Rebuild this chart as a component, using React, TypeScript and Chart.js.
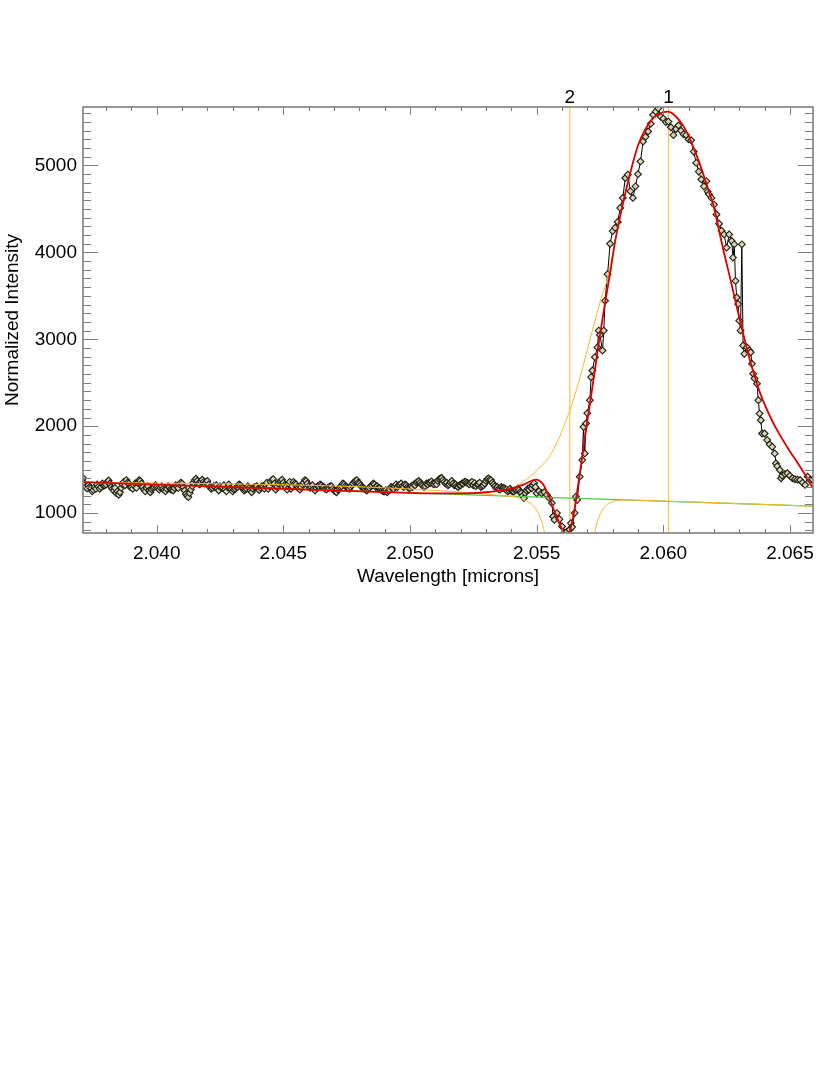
import React, { useEffect, useRef } from "react";
import { Chart, registerables } from "chart.js";

Chart.register(...registerables);

// ---- axis ranges & ticks ----
const X_MIN = 2.03709;
const X_MAX = 2.06591;
const Y_MIN = 771;
const Y_MAX = 5673;
const X_TICKS = [2.04, 2.045, 2.05, 2.055, 2.06, 2.065];
const Y_TICKS = [1000, 2000, 3000, 4000, 5000];
const X_MINOR_STEP = 0.001;
const Y_MINOR_STEP = 100;
const X_TITLE = "Wavelength [microns]";
const Y_TITLE = "Normalized Intensity";

// ---- component line markers ----
const VLINE_WL = [2.05631, 2.06021];
const VLINE_LABELS = ["2", "1"];

// ---- observed spectrum ----
const DATA_WL = [
  2.0371, 2.03715, 2.0372, 2.03725, 2.0373, 2.03735, 2.0374, 2.03745, 2.0375, 2.03755, 2.0376, 2.03765, 2.0377, 2.03775, 2.0378, 2.03785, 2.0379, 2.03795,
  2.038, 2.03805, 2.0381, 2.03815, 2.0382, 2.03825, 2.0383, 2.03835, 2.0384, 2.03845, 2.0385, 2.03855, 2.0386, 2.03865, 2.0387, 2.03875, 2.0388, 2.03885, 2.0389, 2.03895,
  2.039, 2.03905, 2.0391, 2.03915, 2.0392, 2.03925, 2.0393, 2.03935, 2.0394, 2.03945, 2.0395, 2.03955, 2.0396, 2.03965, 2.0397, 2.03975, 2.0398, 2.03985, 2.0399, 2.03995,
  2.04, 2.04005, 2.0401, 2.04015, 2.0402, 2.04025, 2.0403, 2.04035, 2.0404, 2.04045, 2.0405, 2.04055, 2.0406, 2.04065, 2.0407, 2.04075, 2.0408, 2.04085, 2.0409, 2.04095,
  2.041, 2.04105, 2.0411, 2.04115, 2.0412, 2.04125, 2.0413, 2.04135, 2.0414, 2.04145, 2.0415, 2.04155, 2.0416, 2.04165, 2.0417, 2.04175, 2.0418, 2.04185, 2.0419, 2.04195,
  2.042, 2.04205, 2.0421, 2.04215, 2.0422, 2.04225, 2.0423, 2.04235, 2.0424, 2.04245, 2.0425, 2.04255, 2.0426, 2.04265, 2.0427, 2.04275, 2.0428, 2.04285, 2.0429, 2.04295,
  2.043, 2.04305, 2.0431, 2.04315, 2.0432, 2.04325, 2.0433, 2.04335, 2.0434, 2.04345, 2.0435, 2.04355, 2.0436, 2.04365, 2.0437, 2.04375, 2.0438, 2.04385, 2.0439, 2.04395,
  2.044, 2.04405, 2.0441, 2.04415, 2.0442, 2.04425, 2.0443, 2.04435, 2.0444, 2.04445, 2.0445, 2.04455, 2.0446, 2.04465, 2.0447, 2.04475, 2.0448, 2.04485, 2.0449, 2.04495,
  2.045, 2.04505, 2.0451, 2.04515, 2.0452, 2.04525, 2.0453, 2.04535, 2.0454, 2.04545, 2.0455, 2.04555, 2.0456, 2.04565, 2.0457, 2.04575, 2.0458, 2.04585, 2.0459, 2.04595,
  2.046, 2.04605, 2.0461, 2.04615, 2.0462, 2.04625, 2.0463, 2.04635, 2.0464, 2.04645, 2.0465, 2.04655, 2.0466, 2.04665, 2.0467, 2.04675, 2.0468, 2.04685, 2.0469, 2.04695,
  2.047, 2.04705, 2.0471, 2.04715, 2.0472, 2.04725, 2.0473, 2.04735, 2.0474, 2.04745, 2.0475, 2.04755, 2.0476, 2.04765, 2.0477, 2.04775, 2.0478, 2.04785, 2.0479, 2.04795,
  2.048, 2.04805, 2.0481, 2.04815, 2.0482, 2.04825, 2.0483, 2.04835, 2.0484, 2.04845, 2.0485, 2.04855, 2.0486, 2.04865, 2.0487, 2.04875, 2.0488, 2.04885, 2.0489, 2.04895,
  2.049, 2.04905, 2.0491, 2.04915, 2.0492, 2.04925, 2.0493, 2.04935, 2.0494, 2.04945, 2.0495, 2.04955, 2.0496, 2.04965, 2.0497, 2.04975, 2.0498, 2.04985, 2.0499, 2.04995,
  2.05, 2.05005, 2.0501, 2.05015, 2.0502, 2.05025, 2.0503, 2.05035, 2.0504, 2.05045, 2.0505, 2.05055, 2.0506, 2.05065, 2.0507, 2.05075, 2.0508, 2.05085, 2.0509, 2.05095,
  2.051, 2.05105, 2.0511, 2.05115, 2.0512, 2.05125, 2.0513, 2.05135, 2.0514, 2.05145, 2.0515, 2.05155, 2.0516, 2.05165, 2.0517, 2.05175, 2.0518, 2.05185, 2.0519, 2.05195,
  2.052, 2.05205, 2.0521, 2.05215, 2.0522, 2.05225, 2.0523, 2.05235, 2.0524, 2.05245, 2.0525, 2.05255, 2.0526, 2.05265, 2.0527, 2.05275, 2.0528, 2.05285, 2.0529, 2.05295,
  2.053, 2.05305, 2.0531, 2.05315, 2.0532, 2.05325, 2.0533, 2.05335, 2.0534, 2.05345, 2.0535, 2.05355, 2.0536, 2.05365, 2.0537, 2.05375, 2.0538, 2.05385, 2.0539, 2.05395,
  2.054, 2.05405, 2.0541, 2.05415, 2.0542, 2.05425, 2.0543, 2.05435, 2.0544, 2.05445, 2.0545, 2.05455, 2.0546, 2.05465, 2.0547, 2.05475, 2.0548, 2.05485, 2.0549, 2.05495,
  2.055, 2.0551, 2.0552, 2.0553, 2.0554, 2.0555, 2.0556, 2.05565, 2.0557, 2.0558,
  2.0559, 2.056, 2.0561, 2.0562, 2.0563, 2.05635, 2.0564, 2.0565, 2.05655, 2.0566,
  2.0567, 2.0568, 2.05685, 2.0569, 2.05695, 2.057, 2.0571, 2.05715, 2.0572, 2.0573,
  2.0574, 2.05745, 2.0575, 2.0576, 2.05765, 2.0577, 2.0578, 2.0579, 2.058, 2.0581,
  2.0582, 2.0583, 2.0584, 2.0585, 2.0586, 2.0587, 2.0588, 2.0589, 2.059, 2.0591,
  2.0592, 2.0593, 2.0594, 2.0595, 2.0596, 2.0597, 2.0598, 2.0599, 2.06, 2.0601,
  2.0602, 2.0603, 2.0604, 2.0605, 2.0606, 2.0607, 2.0608, 2.0609, 2.061, 2.0611,
  2.0612, 2.0613, 2.0614, 2.0615, 2.0616, 2.0617, 2.06175, 2.0618, 2.0619, 2.062,
  2.0621, 2.0622, 2.0623, 2.0624, 2.0625, 2.0626, 2.0627, 2.06275, 2.0628, 2.06285,
  2.0629, 2.06295, 2.063, 2.06305, 2.0631, 2.06315, 2.0632, 2.0633, 2.0634, 2.06345,
  2.0635, 2.06355, 2.0636, 2.0637, 2.06375, 2.0638, 2.06385, 2.0639, 2.064, 2.0641,
  2.0642, 2.0643, 2.0644, 2.06445, 2.0645, 2.0646, 2.06465, 2.0647, 2.0648, 2.0649,
  2.065, 2.0651, 2.0652, 2.0653, 2.0654, 2.0655, 2.0656, 2.0657, 2.0658, 2.0659,
];
const DATA_INT = [
  1400, 1340, 1300, 1285, 1320, 1300, 1290, 1250, 1265, 1300, 1280, 1330, 1305, 1280, 1300, 1340, 1315, 1320,
  1330, 1360, 1375, 1340, 1300, 1280, 1260, 1290, 1230, 1250, 1210, 1240, 1290, 1330, 1360, 1320, 1380, 1350, 1340, 1300,
  1300, 1280, 1320, 1340, 1290, 1350, 1380, 1370, 1340, 1300, 1270, 1250, 1290, 1310, 1260, 1240, 1275, 1290, 1300, 1320,
  1300, 1285, 1270, 1290, 1310, 1280, 1265, 1250, 1280, 1310, 1300, 1275, 1270, 1260, 1290, 1320, 1310, 1290, 1330, 1350,
  1340, 1300, 1260, 1220, 1200, 1185, 1230, 1270, 1310, 1350, 1380, 1395, 1370, 1340, 1330, 1360, 1385, 1360, 1340, 1355,
  1370, 1330, 1300, 1280, 1290, 1310, 1300, 1320, 1280, 1260, 1310, 1290, 1295, 1320, 1270, 1250, 1300, 1330, 1285, 1270,
  1250, 1270, 1280, 1300, 1300, 1330, 1320, 1300, 1290, 1260, 1270, 1280, 1310, 1290, 1260, 1240, 1280, 1300, 1295, 1310,
  1280, 1265, 1290, 1310, 1300, 1280, 1330, 1350, 1280, 1310, 1360, 1380, 1390, 1340, 1270, 1300, 1340, 1360, 1370, 1385,
  1350, 1320, 1300, 1270, 1340, 1360, 1280, 1310, 1360, 1340, 1330, 1300, 1290, 1270, 1300, 1330, 1350, 1380, 1370, 1340,
  1310, 1290, 1300, 1320, 1280, 1260, 1290, 1310, 1310, 1330, 1320, 1300, 1300, 1280, 1270, 1290, 1290, 1310, 1310, 1280,
  1260, 1250, 1240, 1270, 1290, 1300, 1310, 1340, 1330, 1310, 1300, 1290, 1280, 1300, 1320, 1340, 1360, 1370, 1380, 1350,
  1340, 1320, 1300, 1290, 1280, 1270, 1260, 1280, 1290, 1310, 1320, 1340, 1330, 1300, 1310, 1290, 1290, 1270, 1260, 1250,
  1250, 1265, 1240, 1255, 1270, 1300, 1290, 1280, 1310, 1330, 1300, 1320, 1320, 1340, 1310, 1300, 1330, 1320, 1300, 1290,
  1290, 1310, 1300, 1330, 1320, 1350, 1360, 1370, 1350, 1330, 1320, 1300, 1310, 1340, 1330, 1350, 1345, 1365, 1340, 1330,
  1350, 1330, 1370, 1390, 1400, 1405, 1380, 1360, 1340, 1350, 1320, 1330, 1350, 1370, 1340, 1320, 1330, 1310, 1300, 1320,
  1320, 1340, 1340, 1360, 1360, 1350, 1340, 1330, 1350, 1360, 1320, 1345, 1310, 1330, 1330, 1350, 1300, 1310, 1320, 1340,
  1370, 1390, 1400, 1385, 1380, 1350, 1330, 1310, 1290, 1300, 1280, 1270, 1300, 1290, 1290, 1280, 1270, 1250, 1260, 1280,
  1260, 1250, 1248, 1265, 1270, 1285, 1265, 1240, 1230, 1200, 1172, 1230, 1260, 1280, 1270, 1300, 1286, 1320, 1344, 1300,
  1229, 1250, 1229, 1240, 1210, 1172, 1115, 961, 923, 1000,
  930, 847, 775, 790, 809, 885, 840, 1000, 1190, 1150,
  1419, 1610, 1992, 1687, 2031, 2150, 2298, 2565, 2641, 2794,
  2908, 3100, 3050, 2870, 3100, 3443, 3749, 4100, 4245, 4283,
  4350, 4512, 4627, 4856, 4894, 4704, 4627, 4760, 4900, 5047,
  5276, 5330, 5391, 5480, 5582, 5620, 5658, 5560, 5540, 5500,
  5505, 5440, 5350, 5420, 5460, 5400, 5360, 5350, 5300, 5290,
  5160, 5030, 4930, 4840, 4760, 4820, 4700, 4670, 4627, 4550,
  4436, 4330, 4250, 4207, 4054, 4207, 4131, 3940, 4093, 3672,
  3481, 3405, 3214, 3100, 4093, 2928, 2833, 2908, 2870, 2851,
  2718, 2604, 2550, 2489, 2298, 2145, 2069, 1916, 1916, 1840,
  1790, 1763, 1687, 1572, 1540, 1496, 1401, 1430, 1450, 1458,
  1430, 1401, 1390, 1385, 1381, 1350, 1324, 1419, 1381, 1385,
];

// ---- total fit (red) ----
const FIT_WL = [
  2.037, 2.04, 2.045, 2.05, 2.051, 2.052, 2.0525, 2.053, 2.0535, 2.0538,
  2.0542, 2.0545, 2.0548, 2.055, 2.0552, 2.0553, 2.0554, 2.0555, 2.0556, 2.0557,
  2.0558, 2.0559, 2.056, 2.0561, 2.0562, 2.0563, 2.0564, 2.0565, 2.0566, 2.0567,
  2.0568, 2.0569, 2.057, 2.0571, 2.0572, 2.0573, 2.0574, 2.0575, 2.0577, 2.0579,
  2.0581, 2.0583, 2.0585, 2.0587, 2.059, 2.0593, 2.0596, 2.0598, 2.06, 2.0602,
  2.0604, 2.0606, 2.0608, 2.061, 2.0612, 2.0614, 2.0616, 2.0618, 2.062, 2.0622,
  2.0624, 2.0626, 2.0628, 2.063, 2.0632, 2.0634, 2.0636, 2.0638, 2.064, 2.0643,
  2.0646, 2.065, 2.0653, 2.0656, 2.0659,
];
const FIT_INT = [
  1357, 1328, 1280, 1233, 1226, 1226, 1230, 1240, 1258, 1270,
  1300, 1330, 1372, 1386, 1352, 1310, 1245, 1180, 1100, 1020,
  950, 880, 815, 765, 735, 790, 900, 1050, 1250, 1450,
  1650, 1860, 2060, 2250, 2450, 2650, 2850, 3050, 3420, 3760,
  4130, 4420, 4680, 4920, 5230, 5420, 5545, 5590, 5615, 5620,
  5590, 5530, 5450, 5340, 5200, 5050, 4880, 4700, 4520, 4250,
  3990, 3750, 3500, 3250, 3010, 2780, 2580, 2400, 2250, 2060,
  1900, 1710, 1580, 1440, 1290,
];

// ---- component 1: broad emission (orange) ----
const COMP1_WL = [
  2.037, 2.05, 2.051, 2.052, 2.0525, 2.053, 2.0535, 2.0538, 2.0541, 2.0543,
  2.0546, 2.0549, 2.0552, 2.0555, 2.0558, 2.0561, 2.0564, 2.0567, 2.057, 2.0573,
  2.0576, 2.0578, 2.058, 2.0581, 2.0583, 2.0585, 2.0587, 2.059, 2.0593, 2.0596,
  2.0598, 2.06, 2.0602, 2.0606, 2.061, 2.0614, 2.0618, 2.0622, 2.0626, 2.063,
  2.0634, 2.0638, 2.0643, 2.065, 2.0656, 2.0659,
];
const COMP1_INT = [
  1357, 1233, 1226, 1226, 1230, 1240, 1258, 1272, 1295, 1330,
  1390, 1460, 1545, 1650, 1810, 2020, 2260, 2550, 2880, 3210,
  3520, 3700, 3990, 4140, 4425, 4685, 4922, 5232, 5421, 5546,
  5591, 5616, 5621, 5531, 5341, 5051, 4701, 4251, 3751, 3251,
  2781, 2401, 2061, 1711, 1441, 1291,
];

// ---- component 2: absorption (orange) ----
const COMP2_WL = [
  2.037, 2.0541, 2.0545, 2.0549, 2.0551, 2.0552, 2.0553, 2.0554, 2.0556, 2.0563,
  2.057, 2.0572, 2.0573, 2.0574, 2.0575, 2.0577, 2.0581, 2.0585, 2.059, 2.066,
];
const COMP2_INT = [
  1357, 1188, 1150, 1076, 980, 900, 790, 640, 280, -500,
  280, 640, 790, 900, 980, 1076, 1140, 1152, 1148, 1079,
];

// ---- continuum (green) ----
const CONT_WL = [2.037, 2.066];
const CONT_INT = [1357, 1079];

const FONT_FAMILY = '"Liberation Sans", Arial, Helvetica, sans-serif';
const FONT_SIZE = 19;

const pts = (xs: number[], ys: number[]) => xs.map((x, i) => ({ x, y: ys[i] }));

const idlAxesPlugin = {
  id: "idlAxes",
  afterDatasetsDraw(chart: any) {
    const { ctx, chartArea: a, scales } = chart;
    const xs = scales.x;
    const ys = scales.y;
    ctx.save();
    ctx.strokeStyle = "#7f7f7f";
    ctx.lineWidth = 1;
    ctx.beginPath();
    const xi0 = Math.ceil(X_MIN / X_MINOR_STEP - 1e-6);
    for (let i = xi0; i * X_MINOR_STEP <= X_MAX + 1e-9; i++) {
      const v = i * X_MINOR_STEP;
      const major = X_TICKS.some((t) => Math.abs(t - v) < 1e-7);
      const len = major ? 8 : 4;
      const px = Math.round(xs.getPixelForValue(v)) + 0.5;
      ctx.moveTo(px, a.bottom);
      ctx.lineTo(px, a.bottom - len);
      ctx.moveTo(px, a.top);
      ctx.lineTo(px, a.top + len);
    }
    const yi0 = Math.ceil(Y_MIN / Y_MINOR_STEP - 1e-6);
    for (let i = yi0; i * Y_MINOR_STEP <= Y_MAX + 1e-9; i++) {
      const v = i * Y_MINOR_STEP;
      const major = Y_TICKS.some((t) => Math.abs(t - v) < 1e-7);
      const len = major ? 15 : 8;
      const py = Math.round(ys.getPixelForValue(v)) + 0.5;
      ctx.moveTo(a.left, py);
      ctx.lineTo(a.left + len, py);
      ctx.moveTo(a.right, py);
      ctx.lineTo(a.right - len, py);
    }
    ctx.stroke();
    ctx.lineWidth = 1.6;
    ctx.strokeRect(a.left, a.top, a.right - a.left, a.bottom - a.top);
    ctx.fillStyle = "#000";
    ctx.font = `${FONT_SIZE}px ${FONT_FAMILY}`;
    ctx.textAlign = "center";
    ctx.textBaseline = "alphabetic";
    VLINE_LABELS.forEach((t, i) => {
      ctx.fillText(t, xs.getPixelForValue(VLINE_WL[i]), 103);
    });
    ctx.restore();
  },
};

export default function App() {
  const canvasRef = useRef<HTMLCanvasElement | null>(null);

  useEffect(() => {
    if (!canvasRef.current) return;
    const orange = "#ffb42a";
    const vlineSets = VLINE_WL.map((w) => ({
      data: [
        { x: w, y: Y_MIN },
        { x: w, y: Y_MAX },
      ],
      showLine: true,
      borderColor: orange,
      borderWidth: 1,
      pointRadius: 0,
      order: 5,
    }));
    const chart = new Chart(canvasRef.current, {
      type: "scatter",
      data: {
        datasets: [
          {
            data: pts(FIT_WL, FIT_INT),
            showLine: true,
            borderColor: "#dd0000",
            borderWidth: 1.8,
            pointRadius: 0,
            cubicInterpolationMode: "monotone",
            order: 0,
          },
          {
            data: pts(COMP1_WL, COMP1_INT),
            showLine: true,
            borderColor: orange,
            borderWidth: 1,
            pointRadius: 0,
            cubicInterpolationMode: "monotone",
            order: 1,
          },
          {
            data: pts(COMP2_WL, COMP2_INT),
            showLine: true,
            borderColor: orange,
            borderWidth: 1,
            pointRadius: 0,
            cubicInterpolationMode: "monotone",
            order: 1,
          },
          {
            data: pts(CONT_WL, CONT_INT),
            showLine: true,
            borderColor: "#44cc44",
            borderWidth: 1.4,
            pointRadius: 0,
            order: 2,
          },
          {
            data: pts(DATA_WL, DATA_INT),
            showLine: true,
            borderColor: "#000000",
            borderWidth: 1,
            pointStyle: "rectRot",
            pointRadius: 3.4,
            pointBackgroundColor: "#d6d6bc",
            pointBorderColor: "#1e1e10",
            pointBorderWidth: 1.1,
            order: 3,
          },
          ...vlineSets,
        ] as any,
      },
      options: {
        responsive: false,
        animation: false,
        events: [],
        layout: { padding: { top: 107, right: 17, left: 0, bottom: 0 } },
        plugins: {
          legend: { display: false },
          tooltip: { enabled: false },
          title: { display: false },
        },
        scales: {
          x: {
            type: "linear",
            min: X_MIN,
            max: X_MAX,
            grid: { display: false, drawTicks: false },
            border: { display: false },
            afterBuildTicks: (s: any) => {
              s.ticks = X_TICKS.map((v) => ({ value: v }));
            },
            afterFit: (s: any) => {
              s.height = 87;
            },
            ticks: {
              autoSkip: false,
              maxRotation: 0,
              padding: 9,
              color: "#000",
              font: { size: FONT_SIZE, family: FONT_FAMILY },
              callback: (v: any) => Number(v).toFixed(3),
            },
            title: {
              display: true,
              text: X_TITLE,
              color: "#000",
              font: { size: FONT_SIZE, family: FONT_FAMILY },
              padding: { top: 0, bottom: 32 },
            },
          },
          y: {
            type: "linear",
            min: Y_MIN,
            max: Y_MAX,
            grid: { display: false, drawTicks: false },
            border: { display: false },
            afterBuildTicks: (s: any) => {
              s.ticks = Y_TICKS.map((v) => ({ value: v }));
            },
            afterFit: (s: any) => {
              s.width = 83;
            },
            ticks: {
              autoSkip: false,
              padding: 6,
              color: "#000",
              font: { size: FONT_SIZE, family: FONT_FAMILY },
              callback: (v: any) => String(v),
            },
            title: {
              display: true,
              text: Y_TITLE,
              color: "#000",
              font: { size: FONT_SIZE, family: FONT_FAMILY },
              padding: { top: 1, bottom: 0 },
            },
          },
        },
      },
      plugins: [idlAxesPlugin],
    });
    return () => chart.destroy();
  }, []);

  return (
    <div style={{ position: "absolute", left: 0, top: 0, width: 830, height: 620, background: "#fff" }}>
      <canvas ref={canvasRef} width={830} height={620} style={{ display: "block" }} />
    </div>
  );
}
